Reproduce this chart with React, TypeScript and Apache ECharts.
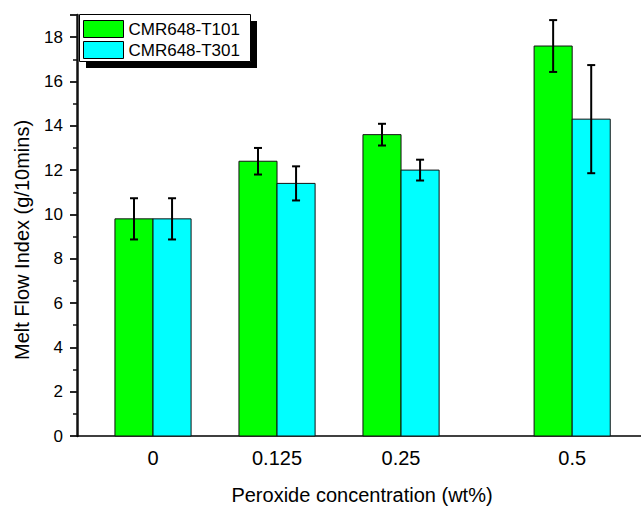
import React, { useEffect, useRef } from "react";
import * as echarts from "echarts";

const categories = ["0", "0.125", "0.25", "0.5"];
const groupSlots = [0.613, 1.613, 2.613, 3.993];
const t101Values = [9.8, 12.4, 13.6, 17.6];
const t101Errors = [0.93, 0.6, 0.49, 1.17];
const t301Values = [9.8, 11.4, 12.0, 14.3];
const t301Errors = [0.93, 0.77, 0.47, 2.44];
const yMax = 19;
const yStep = 2;
const seriesNames = ["CMR648-T101", "CMR648-T301"];
const seriesColors = ["#00ff00", "#00ffff"];

const FONT = "'Liberation Sans', Arial, sans-serif";
const BAR_W = 0.307;

function makeRender(side: number, color: string) {
  return (params: any, api: any) => {
    const slot = api.value(0);
    const v = api.value(1);
    const e = api.value(2);
    const base = api.coord([slot, 0]);
    const top = api.coord([slot, v]);
    const w = api.size([BAR_W, 0])[0];
    const x0 = side === 0 ? base[0] - w : base[0];
    const cx = x0 + w / 2;
    const ey1 = api.coord([slot, v + e])[1];
    const ey2 = api.coord([slot, v - e])[1];
    const ls = { stroke: "#000", lineWidth: 2 };
    return {
      type: "group",
      children: [
        {
          type: "rect",
          shape: { x: x0, y: top[1], width: w, height: base[1] - top[1] },
          style: { fill: color, stroke: "#111", lineWidth: 1 },
        },
        { type: "line", shape: { x1: cx, y1: ey1, x2: cx, y2: ey2 }, style: ls },
        { type: "line", shape: { x1: cx - 4, y1: ey1, x2: cx + 4, y2: ey1 }, style: ls },
        { type: "line", shape: { x1: cx - 4, y1: ey2, x2: cx + 4, y2: ey2 }, style: ls },
      ],
    };
  };
}

export default function App() {
  const ref = useRef<HTMLDivElement>(null);
  useEffect(() => {
    if (!ref.current) return;
    const chart = echarts.init(ref.current, undefined, { renderer: "svg" });
    const mk = (vals: number[], errs: number[]) =>
      vals.map((v, i) => [groupSlots[i], v, errs[i]]);
    chart.setOption({
      animation: false,
      backgroundColor: "#fff",
      textStyle: { fontFamily: FONT },
      grid: { left: 77, right: 0, top: 15, bottom: 70, containLabel: false },
      xAxis: {
        type: "value",
        position: "bottom",
        min: 0,
        max: 4.548,
        splitLine: { show: false },
        axisLine: { show: true, lineStyle: { color: "#000", width: 1.5 } },
        axisTick: { show: false },
        axisLabel: {
          customValues: groupSlots,
          margin: 12,
          fontSize: 20,
          color: "#000",
          fontFamily: FONT,
          formatter: (v: number) => {
            const i = groupSlots.findIndex((s) => Math.abs(s - v) < 1e-6);
            return i >= 0 ? categories[i] : "";
          },
        },
      },
      yAxis: {
        type: "value",
        position: "left",
        min: 0,
        max: yMax,
        interval: yStep,
        splitLine: { show: false },
        axisLine: { show: true, lineStyle: { color: "#111111", width: 2.5, opacity: 1 } },
        axisTick: {
          show: true,
          length: 7,
          lineStyle: { color: "#111111", width: 1.8, opacity: 1 },
        },
        minorTick: {
          show: true,
          splitNumber: 2,
          length: 4,
          lineStyle: { color: "#111111", width: 1.5 },
        },
        axisLabel: {
          margin: 14,
          fontSize: 17,
          color: "#000",
          fontFamily: FONT,
          showMaxLabel: false,
          formatter: (v: number) => (v >= yMax ? "" : String(v)),
        },
      },
      legend: {
        show: true,
        orient: "vertical",
        left: 83,
        top: 20,
        itemWidth: 40,
        itemHeight: 17,
        itemGap: 3,
        padding: 0,
        textStyle: { fontSize: 17, color: "#000", fontFamily: FONT, lineHeight: 17 },
        data: seriesNames.map((n, i) => ({
          name: n,
          icon: "rect",
          itemStyle: { color: seriesColors[i], borderColor: "#000", borderWidth: 1 },
        })),
        z: 10,
      },
      graphic: [
        { type: "rect", z: 5, shape: { x: 86, y: 21, width: 171, height: 47 }, style: { fill: "#000" } },
        {
          type: "rect",
          z: 6,
          shape: { x: 79.5, y: 14.5, width: 171, height: 47 },
          style: { fill: "#fff", stroke: "#000", lineWidth: 1 },
        },
        {
          type: "text",
          x: 22,
          y: 240,
          rotation: Math.PI / 2,
          style: {
            text: "Melt Flow Index (g/10mins)",
            font: `20px ${FONT}`,
            fill: "#000",
            textAlign: "center",
            textVerticalAlign: "middle",
          },
        },
        {
          type: "text",
          x: 362,
          y: 495,
          style: {
            text: "Peroxide concentration (wt%)",
            font: `20px ${FONT}`,
            fill: "#000",
            textAlign: "center",
            textVerticalAlign: "middle",
          },
        },
      ],
      series: [
        {
          name: seriesNames[0],
          type: "custom",
          itemStyle: { color: seriesColors[0] },
          encode: { x: 0, y: 1 },
          renderItem: makeRender(0, seriesColors[0]),
          data: mk(t101Values, t101Errors),
        },
        {
          name: seriesNames[1],
          type: "custom",
          itemStyle: { color: seriesColors[1] },
          encode: { x: 0, y: 1 },
          renderItem: makeRender(1, seriesColors[1]),
          data: mk(t301Values, t301Errors),
        },
      ],
    });
    return () => chart.dispose();
  }, []);
  return <div ref={ref} style={{ width: 641, height: 506, position: "absolute", left: 0, top: 0 }} />;
}
